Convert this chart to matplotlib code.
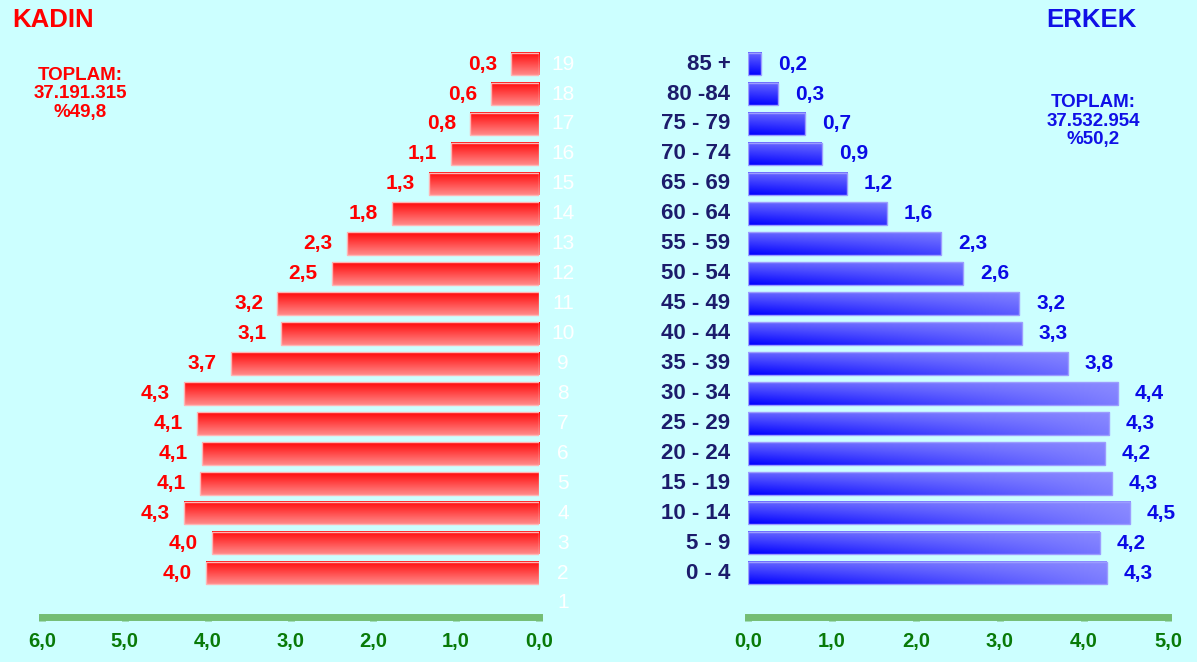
import numpy as np
import matplotlib.pyplot as plt

# Yaş grupları (aşağıdan yukarı)
age_groups = ['0 - 4', '5 - 9', '10 - 14', '15 - 19', '20 - 24', '25 - 29', '30 - 34',
              '35 - 39', '40 - 44', '45 - 49', '50 - 54', '55 - 59', '60 - 64',
              '65 - 69', '70 - 74', '75 - 79', '80 -84', '85 +']
rows = list(range(2, 20))          # grup numaraları 2..19
row_numbers = list(range(1, 20))   # beyaz numaralar 1..19

kadin = [4.02, 3.95, 4.29, 4.09, 4.07, 4.13, 4.29, 3.72, 3.12, 3.16,
         2.50, 2.32, 1.78, 1.33, 1.06, 0.83, 0.58, 0.34]
kadin_labels = ['4,0', '4,0', '4,3', '4,1', '4,1', '4,1', '4,3', '3,7', '3,1', '3,2',
                '2,5', '2,3', '1,8', '1,3', '1,1', '0,8', '0,6', '0,3']
erkek = [4.27, 4.19, 4.55, 4.33, 4.25, 4.30, 4.40, 3.81, 3.26, 3.23,
         2.56, 2.30, 1.65, 1.18, 0.88, 0.68, 0.36, 0.16]
erkek_labels = ['4,3', '4,2', '4,5', '4,3', '4,2', '4,3', '4,4', '3,8', '3,3', '3,2',
                '2,6', '2,3', '1,6', '1,2', '0,9', '0,7', '0,3', '0,2']

left_ticks = [0, 1, 2, 3, 4, 5, 6]
right_ticks = [0, 1, 2, 3, 4, 5]

plt.rcParams['font.family'] = ['Liberation Sans', 'DejaVu Sans']
BG = '#ccffff'
GREEN_LINE = '#74bd74'
GREEN_TXT = '#087a08'
NAVY = '#1c1c6c'

fig = plt.figure(figsize=(11.97, 6.62), dpi=100)
fig.patch.set_facecolor(BG)

W, H = 1197, 662
ROW = 29.94
axis_pix = 617
top_pix = 40
y_lo = 1 + (603 - axis_pix) / ROW
y_hi = 1 + (603 - top_pix) / ROW
ax_bottom = (H - axis_pix) / H
ax_height = (axis_pix - top_pix) / H

ax_l = fig.add_axes([42 / W, ax_bottom, 497 / W, ax_height])
ax_r = fig.add_axes([748 / W, ax_bottom, 420 / W, ax_height])

bh = 0.755

# Kadın - kırmızı dikey gradyan
for k, v, lab in zip(rows, kadin, kadin_labels):
    t = np.linspace(0, 1, 50)[:, None]  # 0 alt, 1 üst
    f = 0.5 * (1 - t) + 0.04
    img = np.ones((50, 2, 3))
    img[:, :, 1] = f
    img[:, :, 2] = f
    ax_l.imshow(img, extent=[0, v, k - bh / 2, k + bh / 2], origin='lower',
                aspect='auto', interpolation='bilinear', zorder=2)
    ax_l.barh(k, v, height=bh, fill=False, edgecolor='#ffb4b4', lw=1, zorder=3)
    ax_l.text(v + 0.17, k, lab, ha='right', va='center', color='#ff0000',
              fontsize=15, fontweight='bold')

# Erkek - mavi çapraz gradyan
for k, v, lab in zip(rows, erkek, erkek_labels):
    nx = 100
    u = np.linspace(0, v, nx)[None, :] / 4.5
    t = np.linspace(0, 1, 40)[:, None]
    f = 0.4 * t + 0.5 * u * (1 - 0.7 * t)
    img = np.ones((40, nx, 3))
    img[:, :, 0] = f
    img[:, :, 1] = f
    ax_r.imshow(img, extent=[0, v, k - bh / 2, k + bh / 2], origin='lower',
                aspect='auto', interpolation='bilinear', zorder=2)
    ax_r.barh(k, v, height=bh, fill=False, edgecolor='#9c9cff', lw=1, zorder=3)
    ax_r.text(v + 0.2, k, lab, ha='left', va='center', color='#0a0ae6',
              fontsize=15, fontweight='bold')

# Beyaz grup numaraları
for k in row_numbers:
    ax_l.text(-0.29, k, str(k), ha='center', va='center', color='white',
              fontsize=15, clip_on=False)

# Yaş grubu etiketleri
for k, lab in zip(rows, age_groups):
    ax_r.text(-0.21, k, lab, ha='right', va='center', color=NAVY,
              fontsize=16, fontweight='bold', clip_on=False)

for ax, xl, ticks in [(ax_l, (6, 0), left_ticks), (ax_r, (0, 5), right_ticks)]:
    ax.set_facecolor('none')
    ax.set_xlim(*xl)
    ax.set_ylim(y_lo, y_hi)
    for s in ['top', 'right', 'left']:
        ax.spines[s].set_visible(False)
    ax.spines['bottom'].set_color(GREEN_LINE)
    ax.spines['bottom'].set_linewidth(5)
    ax.spines['bottom'].set_capstyle('projecting')
    ax.set_yticks([])
    ax.set_xticks(ticks)
    ax.set_xticklabels(['{:.1f}'.format(t).replace('.', ',') for t in ticks])
    ax.tick_params(axis='x', direction='out', length=3, width=5, color=GREEN_LINE,
                   labelcolor=GREEN_TXT, labelsize=14.5, pad=8)
    for lbl in ax.get_xticklabels():
        lbl.set_fontweight('bold')

# Başlıklar
fig.text(12 / W, 1 - 20 / H, 'KADIN', ha='left', va='center', color='#ff0000',
         fontsize=18.5, fontweight='bold')
fig.text(1137 / W, 1 - 20 / H, 'ERKEK', ha='right', va='center', color='#1010e6',
         fontsize=18.5, fontweight='bold')
fig.text(80 / W, 1 - 94 / H, 'TOPLAM:\n37.191.315\n%49,8', ha='center', va='center',
         color='#ff0000', fontsize=13.5, fontweight='bold', linespacing=1.08)
fig.text(1093 / W, 1 - 121 / H, 'TOPLAM:\n37.532.954\n%50,2', ha='center', va='center',
         color='#1010e6', fontsize=13.5, fontweight='bold', linespacing=1.08)

plt.savefig('out.png', dpi=100, facecolor=BG)
